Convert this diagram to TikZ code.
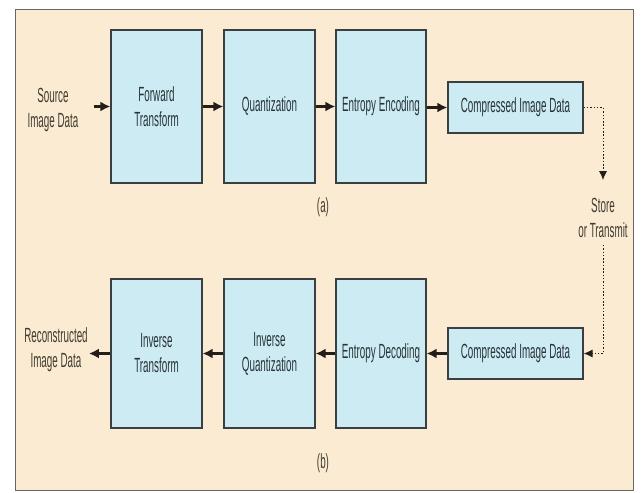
\documentclass[tikz,border=0pt]{standalone}
\usepackage{fontspec}
\setmainfont{Liberation Sans}[FakeStretch=0.48]
\usetikzlibrary{arrows.meta}
\definecolor{panelc}{HTML}{FBEBD2}
\definecolor{boxc}{HTML}{CDEBF2}
\definecolor{boxline}{HTML}{3A4042}
\definecolor{txtc}{HTML}{28323A}
\definecolor{lblc}{HTML}{403C30}
\definecolor{arrc}{HTML}{241E1A}
\tikzset{
  blk/.style={draw=boxline, line width=1.2pt, fill=boxc, text=txtc, align=center,
    inner sep=0pt, font=\fontsize{20.5}{25}\selectfont},
  lbl/.style={text=lblc, align=center, inner sep=1pt, font=\fontsize{20.5}{25}\selectfont},
  arr/.style={draw=arrc, line width=2.4pt, -{Latex[length=10pt,width=10pt]}},
  dots/.style={draw=arrc, line width=0.9pt, dash pattern=on 1.5pt off 1.8pt},
  dotarr/.style={dots, -{Latex[length=9pt,width=8pt]}}
}
\begin{document}
\begin{tikzpicture}[x=1pt,y=-1pt]
\useasboundingbox (0,0) rectangle (641,493);
\fill[white] (0,0) rectangle (641,493);
\draw[fill=panelc, draw=gray!80!black, line width=0.9pt] (15,9) rectangle (633,490);

% top row
\node[blk, minimum width=91pt, minimum height=153pt] (ft) at (156.5,106.5) {Forward\\Transform};
\node[blk, minimum width=91pt, minimum height=153pt] (q) at (269.5,106.5) {Quantization};
\node[blk, minimum width=90pt, minimum height=153pt] (ee) at (381,106.5) {Entropy Encoding};
\node[blk, minimum width=135pt, minimum height=51pt] (c1) at (515.5,107.5) {Compressed Image Data};
\node[lbl] (src) at (53,110) {Source\\Image Data};
\node[lbl] (la) at (323,207) {(a)};

% bottom row
\node[blk, minimum width=91pt, minimum height=149pt] (it) at (156.5,353.5) {Inverse\\Transform};
\node[blk, minimum width=91pt, minimum height=149pt] (iq) at (269.5,353.5) {Inverse\\Quantization};
\node[blk, minimum width=90pt, minimum height=149pt] (ed) at (381,353.5) {Entropy Decoding};
\node[blk, minimum width=135pt, minimum height=51pt] (c2) at (515.5,353.5) {Compressed Image Data};
\node[lbl, inner sep=0pt] (rec) at (56,350) {Reconstructed\\Image Data};
\node[lbl] (lb) at (323,463) {(b)};

\node[lbl] (st) at (603,218) {Store\\or Transmit};

% arrows top
\draw[arr, shorten <=14pt] (src.east |- ft.west) -- (ft.west);
\draw[arr] (ft.east) -- (q.west);
\draw[arr] (q.east) -- (ee.west);
\draw[arr] (ee.east |- c1.west) -- (c1.west);

% arrows bottom
\draw[arr] (c2.west) -- (ed.east);
\draw[arr] (ed.west) -- (iq.east);
\draw[arr] (iq.west) -- (it.east);
\draw[arr] (it.west) -- ([xshift=1pt]rec.east |- it.west);

% store / transmit
\coordinate (sttop) at ([yshift=17pt]st.north);
\coordinate (stbot) at ([yshift=-6pt]st.south);
\draw[dotarr] (c1.east) -| (sttop);
\draw[dotarr] (stbot) |- (c2.east);
\end{tikzpicture}
\end{document}
